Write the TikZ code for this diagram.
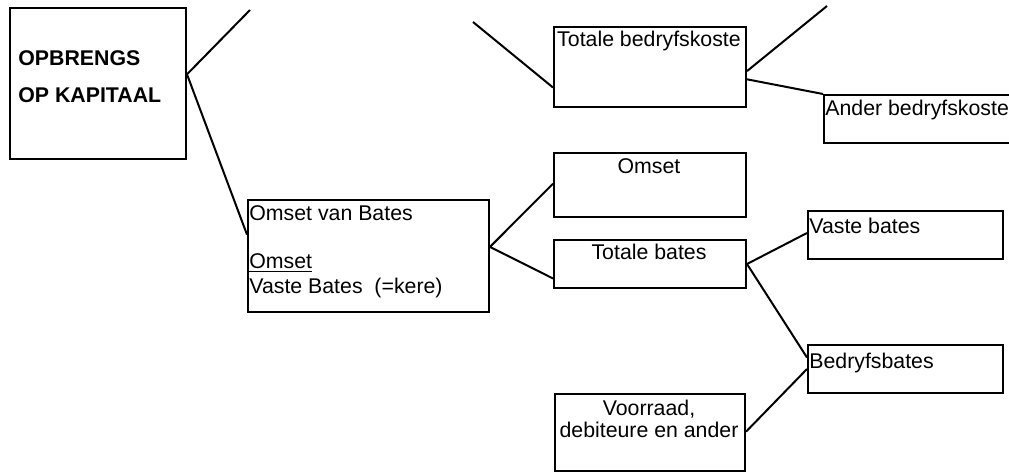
\documentclass[tikz,border=0pt]{standalone}
\usepackage{fontspec}
\setmainfont{Liberation Sans}
\usetikzlibrary{calc}
\begin{document}
\begin{tikzpicture}[x=0.5pt,y=-0.5pt,
  box/.style={draw, line width=1pt, rectangle, inner sep=0pt, anchor=north west},
  link/.style={line width=1pt},
  lbl/.style={inner sep=0pt, font=\fontsize{10.65}{12}\selectfont},
  lblb/.style={inner sep=0pt, font=\fontsize{10.65}{12}\selectfont\bfseries}]
\useasboundingbox (0,0) rectangle (1009,472);

% boxes
\node[box, minimum width=88pt,   minimum height=75.5pt] (A) at (9,7) {};
\node[box, minimum width=120.5pt, minimum height=56pt]  (B) at (247,199) {};
\node[box, minimum width=96pt,   minimum height=40pt]   (C) at (553,26) {};
\node[box, minimum width=96pt,   minimum height=24pt]   (D) at (823,94) {};
\node[box, minimum width=96pt,   minimum height=32pt]   (E) at (553,152) {};
\node[box, minimum width=96pt,   minimum height=24pt]   (F) at (553,239) {};
\node[box, minimum width=97.5pt, minimum height=24pt]   (G) at (807,210) {};
\node[box, minimum width=97.5pt, minimum height=24pt]   (H) at (807,344) {};
\node[box, minimum width=95pt,   minimum height=38.5pt] (I) at (554,393) {};

% texts
\node[lblb, anchor=base west] (tA1) at (18,65) {OPBRENGS};
\node[lblb, anchor=base west] (tA2) at (18,102) {OP KAPITAAL};
\node[lbl, anchor=base west] (tB1) at (249,220) {Omset van Bates};
\node[lbl, anchor=base west] (tB2) at (249,268) {\underline{Omset}};
\node[lbl, anchor=base west] (tB3) at (249,293) {Vaste Bates\ \ (=kere)};
\node[lbl, anchor=base] (tC) at (649,46) {Totale bedryfskoste};
\node[lbl, anchor=base west] (tD) at (825,115) {Ander bedryfskoste};
\node[lbl, anchor=base] (tE) at (649,173) {Omset};
\node[lbl, anchor=base] (tF) at (649,259) {Totale bates};
\node[lbl, anchor=base west] (tG) at (809,233) {Vaste bates};
\node[lbl, anchor=base west] (tH) at (809,368) {Bedryfsbates};
\node[lbl, anchor=base] (tI1) at (649,415) {Voorraad,};
\node[lbl, anchor=base] (tI2) at (649,437) {debiteure en ander};

% free line ends
\coordinate (fA) at (250,10);
\coordinate (fC) at (473,22);
\coordinate (fCr) at (827,6);

% attachment points on the box sides
\coordinate (Ar)  at ($(A.north east)!0.44!(A.south east)$);
\coordinate (Bl)  at ($(B.north west)!0.3125!(B.south west)$);
\coordinate (Br)  at ($(B.north east)!0.42!(B.south east)$);
\coordinate (Cl)  at ($(C.north west)!0.75!(C.south west)$);
\coordinate (Cr1) at ($(C.north east)!0.55!(C.south east)$);
\coordinate (Cr2) at ($(C.north east)!0.65!(C.south east)$);
\coordinate (El)  at ($(E.north west)!0.48!(E.south west)$);
\coordinate (Fl)  at ($(F.north west)!0.79!(F.south west)$);
\coordinate (Gl)  at ($(G.north west)!0.46!(G.south west)$);
\coordinate (Hl1) at ($(H.north west)!0.27!(H.south west)$);
\coordinate (Hl2) at ($(H.north west)!0.5!(H.south west)$);
\coordinate (Ir)  at ($(I.north east)!0.49!(I.south east)$);

% connectors
\draw[link] (Ar) -- (fA);
\draw[link] (Ar) -- (Bl);
\draw[link] (fC) -- (Cl);
\draw[link] (Cr1) -- (fCr);
\draw[link] (Cr2) -- (D.north west);
\draw[link] (Br) -- (El);
\draw[link] (Br) -- (Fl);
\draw[link] (F.east) -- (Gl);
\draw[link] (F.east) -- (Hl1);
\draw[link] (Ir) -- (Hl2);
\end{tikzpicture}
\end{document}
